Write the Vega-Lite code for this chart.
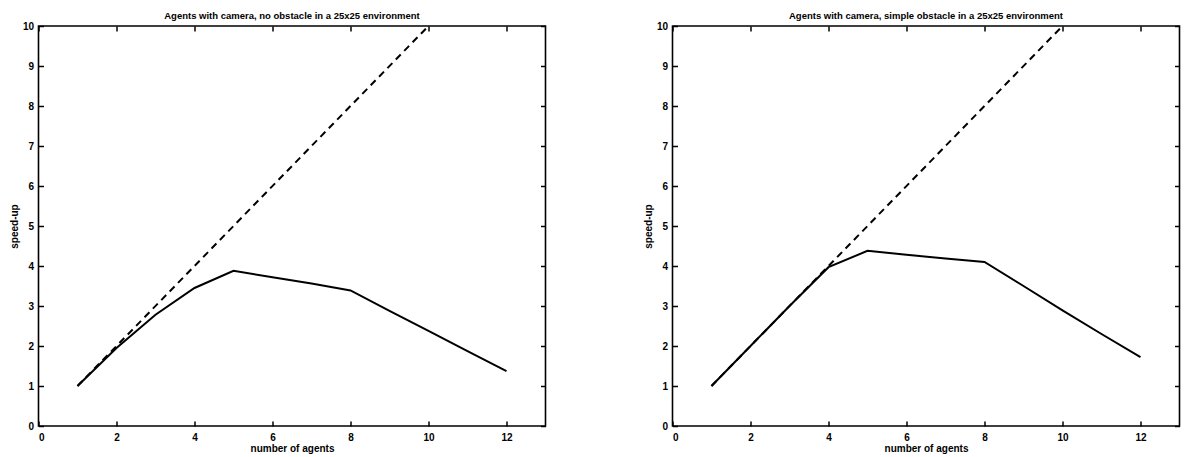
{
  "$schema": "https://vega.github.io/schema/vega-lite/v6.json",
  "background": "white",
  "padding": {"left": 8.5, "top": 9, "right": 0, "bottom": 0},
  "spacing": 95,
  "config": {
    "font": "Liberation Sans",
    "view": {"stroke": "black", "strokeWidth": 1.6},
    "title": {"fontSize": 9.5, "fontWeight": "bold", "color": "black", "offset": 1, "anchor": "middle"},
    "axis": {
      "grid": false,
      "domain": false,
      "tickColor": "black",
      "tickWidth": 1.5,
      "tickSize": -5,
      "labelFont": "Liberation Sans",
      "labelFontSize": 10,
      "labelFontWeight": "bold",
      "labelColor": "black",
      "titleFont": "Liberation Sans",
      "titleFontSize": 10,
      "titleFontWeight": "bold",
      "titleColor": "black"
    },
    "line": {"color": "black", "strokeWidth": 2}
  },
  "datasets": {
    "ideal": [
      {"agents": 1, "speedup": 1},
      {"agents": 10, "speedup": 10}
    ],
    "noObstacle": [
      {"agents": 1, "speedup": 1.0},
      {"agents": 2, "speedup": 1.95},
      {"agents": 3, "speedup": 2.78},
      {"agents": 4, "speedup": 3.45},
      {"agents": 5, "speedup": 3.88},
      {"agents": 6, "speedup": 3.72},
      {"agents": 7, "speedup": 3.56},
      {"agents": 8, "speedup": 3.39},
      {"agents": 9, "speedup": 2.88},
      {"agents": 10, "speedup": 2.38},
      {"agents": 11, "speedup": 1.87},
      {"agents": 12, "speedup": 1.37}
    ],
    "simpleObstacle": [
      {"agents": 1, "speedup": 1.0},
      {"agents": 2, "speedup": 2.0},
      {"agents": 3, "speedup": 3.0},
      {"agents": 4, "speedup": 3.97},
      {"agents": 5, "speedup": 4.38},
      {"agents": 6, "speedup": 4.28},
      {"agents": 7, "speedup": 4.19},
      {"agents": 8, "speedup": 4.1},
      {"agents": 9, "speedup": 3.5},
      {"agents": 10, "speedup": 2.89},
      {"agents": 11, "speedup": 2.3},
      {"agents": 12, "speedup": 1.72}
    ]
  },
  "hconcat": [
    {
      "title": "Agents with camera, no obstacle in a 25x25 environment",
      "width": 507,
      "height": 400,
      "layer": [
        {
          "data": {"name": "ideal"},
          "mark": {"type": "line", "strokeDash": [7, 5]},
          "encoding": {
            "x": {"field": "agents", "type": "quantitative", "scale": {"domain": [0, 13], "nice": false},
                  "axis": {"orient": "bottom", "values": [0, 2, 4, 6, 8, 10, 12], "labelPadding": 11, "title": "number of agents", "titlePadding": 1}},
            "y": {"field": "speedup", "type": "quantitative", "scale": {"domain": [0, 10], "nice": false},
                  "axis": {"orient": "left", "values": [0, 1, 2, 3, 4, 5, 6, 7, 8, 9, 10], "labelPadding": 10, "title": "speed-up", "titlePadding": 3}}
          }
        },
        {
          "data": {"name": "noObstacle"},
          "mark": {"type": "line"},
          "encoding": {
            "x": {"field": "agents", "type": "quantitative", "scale": {"domain": [0, 13], "nice": false},
                  "axis": {"orient": "top", "values": [0, 2, 4, 6, 8, 10, 12], "labels": false, "title": null, "minExtent": 0, "maxExtent": 0}},
            "y": {"field": "speedup", "type": "quantitative", "scale": {"domain": [0, 10], "nice": false},
                  "axis": {"orient": "right", "values": [0, 1, 2, 3, 4, 5, 6, 7, 8, 9, 10], "labels": false, "title": null, "minExtent": 0, "maxExtent": 0}}
          }
        }
      ],
      "resolve": {"axis": {"x": "independent", "y": "independent"}}
    },
    {
      "title": "Agents with camera, simple obstacle in a 25x25 environment",
      "width": 507,
      "height": 400,
      "layer": [
        {
          "data": {"name": "ideal"},
          "mark": {"type": "line", "strokeDash": [7, 5]},
          "encoding": {
            "x": {"field": "agents", "type": "quantitative", "scale": {"domain": [0, 13], "nice": false},
                  "axis": {"orient": "bottom", "values": [0, 2, 4, 6, 8, 10, 12], "labelPadding": 11, "title": "number of agents", "titlePadding": 1}},
            "y": {"field": "speedup", "type": "quantitative", "scale": {"domain": [0, 10], "nice": false},
                  "axis": {"orient": "left", "values": [0, 1, 2, 3, 4, 5, 6, 7, 8, 9, 10], "labelPadding": 10, "title": "speed-up", "titlePadding": 3}}
          }
        },
        {
          "data": {"name": "simpleObstacle"},
          "mark": {"type": "line"},
          "encoding": {
            "x": {"field": "agents", "type": "quantitative", "scale": {"domain": [0, 13], "nice": false},
                  "axis": {"orient": "top", "values": [0, 2, 4, 6, 8, 10, 12], "labels": false, "title": null, "minExtent": 0, "maxExtent": 0}},
            "y": {"field": "speedup", "type": "quantitative", "scale": {"domain": [0, 10], "nice": false},
                  "axis": {"orient": "right", "values": [0, 1, 2, 3, 4, 5, 6, 7, 8, 9, 10], "labels": false, "title": null, "minExtent": 0, "maxExtent": 0}}
          }
        }
      ],
      "resolve": {"axis": {"x": "independent", "y": "independent"}}
    }
  ]
}
